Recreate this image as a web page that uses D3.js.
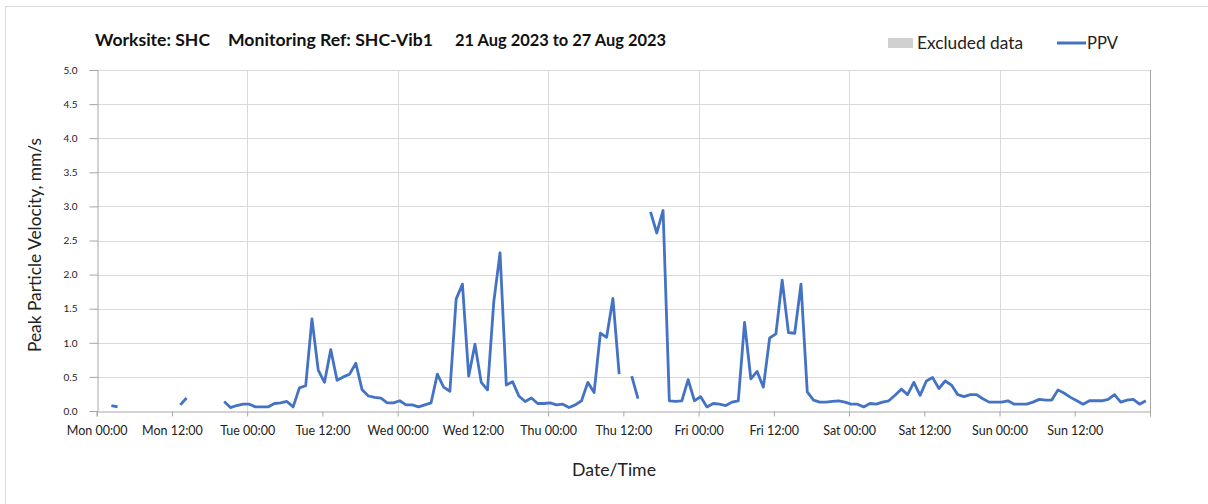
<!DOCTYPE html>
<html>
<head>
<meta charset="utf-8">
<script src="https://cdn.jsdelivr.net/npm/d3@7"></script>
<style>
  html, body { margin: 0; padding: 0; background: #ffffff; }
  svg { display: block; font-family: Lato, "Open Sans", sans-serif; }
</style>
</head>
<body>
<svg id="chart" width="1208" height="504"></svg>
<script>
// ---- data ----
const titleParts = ["Worksite: SHC", "Monitoring Ref: SHC-Vib1", "21 Aug 2023 to 27 Aug 2023"];
const legendLabels = ["Excluded data", "PPV"];
const yTickValues = [0, 0.5, 1, 1.5, 2, 2.5, 3, 3.5, 4, 4.5, 5];
const xLabel = "Date/Time";
const yLabel = "Peak Particle Velocity, mm/s";
// hourly samples starting Mon 21 Aug 2023 00:20
const startTime = Date.UTC(2023, 7, 21, 0, 20);
const stepMinutes = 60;
const ppv = [
  null, null, 0.08, 0.06, null, null, null, null, null, null, null, null,
  null, 0.09, 0.19, null, null, null, null, null, 0.14, 0.05, 0.08, 0.10,
  0.10, 0.06, 0.06, 0.06, 0.11, 0.12, 0.14, 0.06, 0.34, 0.37, 1.35, 0.60,
  0.42, 0.90, 0.45, 0.50, 0.54, 0.70, 0.31, 0.22, 0.20, 0.19, 0.12, 0.12,
  0.15, 0.09, 0.09, 0.06, 0.09, 0.12, 0.54, 0.35, 0.29, 1.64, 1.86, 0.51,
  0.98, 0.42, 0.31, 1.60, 2.32, 0.38, 0.43, 0.22, 0.14, 0.19, 0.11, 0.11,
  0.12, 0.09, 0.10, 0.05, 0.09, 0.15, 0.42, 0.27, 1.14, 1.08, 1.65, 0.54,
  null, 0.51, 0.18, null, 2.92, 2.61, 2.94, 0.15, 0.14, 0.15, 0.46, 0.15,
  0.21, 0.06, 0.11, 0.10, 0.08, 0.13, 0.15, 1.30, 0.47, 0.58, 0.35, 1.07,
  1.13, 1.92, 1.15, 1.14, 1.86, 0.28, 0.16, 0.13, 0.13, 0.14, 0.15, 0.13,
  0.10, 0.10, 0.06, 0.11, 0.10, 0.13, 0.15, 0.23, 0.32, 0.24, 0.42, 0.23,
  0.44, 0.49, 0.33, 0.44, 0.38, 0.24, 0.21, 0.24, 0.24, 0.18, 0.13, 0.13,
  0.13, 0.15, 0.10, 0.10, 0.10, 0.13, 0.17, 0.16, 0.16, 0.31, 0.26, 0.20,
  0.15, 0.10, 0.15, 0.15, 0.15, 0.17, 0.24, 0.13, 0.16, 0.17, 0.10, 0.15
];
const domainStart = Date.UTC(2023, 7, 21, 0, 0);
const domainEnd = Date.UTC(2023, 7, 28, 0, 0);

// ---- chart ----
const svg = d3.select("#chart");
const plotL = 96.7, plotR = 1150, plotT = 70, plotB = 411;
const blue = "#4472C4";

svg.append("rect").attr("x", 5.5).attr("y", 6.5).attr("width", 1300).attr("height", 600)
  .attr("fill", "none").attr("stroke", "#d9d9d9");

const x = d3.scaleUtc().domain([new Date(domainStart), new Date(domainEnd)]).range([plotL, plotR]);
const y = d3.scaleLinear().domain([0, 5]).range([plotB, plotT]);

const data = ppv.map((v, i) => ({ t: new Date(startTime + i * stepMinutes * 60000), v }));

// gridlines
const grid = svg.append("g");
grid.selectAll("line.h").data(yTickValues.filter(d => d > 0)).join("line")
  .attr("x1", plotL).attr("x2", plotR)
  .attr("y1", d => Math.round(y(d)) + 0.5).attr("y2", d => Math.round(y(d)) + 0.5)
  .attr("stroke", "#d9d9d9").attr("stroke-width", 1);
const days = d3.utcDay.range(new Date(domainStart + 1), new Date(domainEnd));
grid.selectAll("line.v").data(days).join("line")
  .attr("x1", d => Math.round(x(d)) + 0.5).attr("x2", d => Math.round(x(d)) + 0.5)
  .attr("y1", plotT).attr("y2", plotB)
  .attr("stroke", "#d9d9d9").attr("stroke-width", 1);
// right edge
svg.append("line").attr("x1", Math.round(plotR) + 0.5).attr("x2", Math.round(plotR) + 0.5)
  .attr("y1", plotT).attr("y2", plotB + 5).attr("stroke", "#a6a6a6");

// x axis
const fmt = d3.utcFormat("%a %H:%M");
const xAxis = d3.axisBottom(x).ticks(d3.utcHour.every(12)).tickFormat(fmt).tickSize(5).tickPadding(10);
const gx = svg.append("g").attr("transform", `translate(0,${Math.round(plotB) + 0.5})`).call(xAxis);
gx.select(".domain").attr("stroke", "#a6a6a6");
gx.selectAll(".tick line").attr("stroke", "#a6a6a6");
gx.selectAll(".tick text").attr("font-size", 12.5).attr("fill", "#222").attr("font-family", "Lato, sans-serif");
gx.selectAll(".tick").filter(d => +d === domainEnd).select("text").remove();

// y axis
const yAxis = d3.axisLeft(y).tickValues(yTickValues).tickFormat(d3.format(".1f")).tickSize(8).tickPadding(12);
const gy = svg.append("g").attr("transform", `translate(${Math.round(plotL) + 0.5},0)`).call(yAxis);
gy.select(".domain").attr("stroke", "#a6a6a6");
gy.selectAll(".tick line").attr("stroke", "#a6a6a6");
gy.selectAll(".tick text").attr("font-size", 10).attr("fill", "#222").attr("font-family", "Lato, sans-serif");

// line
const line = d3.line().defined(d => d.v != null).x(d => x(d.t)).y(d => y(d.v));
svg.append("path").datum(data).attr("d", line)
  .attr("fill", "none").attr("stroke", blue).attr("stroke-width", 2.8)
  .attr("stroke-linejoin", "round").attr("stroke-linecap", "butt");

// title
const titleX = [95, 228, 455];
const titleW = [115, 205, 211];
svg.append("g").selectAll("text").data(titleParts).join("text")
  .attr("x", (d, i) => titleX[i]).attr("y", 46)
  .attr("font-size", 17).attr("font-weight", "bold").attr("fill", "#111")
  .attr("textLength", (d, i) => titleW[i]).attr("lengthAdjust", "spacingAndGlyphs")
  .text(d => d);

// legend
svg.append("rect").attr("x", 888).attr("y", 38).attr("width", 25).attr("height", 10).attr("fill", "#d0d0d0");
svg.append("text").attr("x", 917).attr("y", 49).attr("font-size", 17).attr("fill", "#222")
  .attr("textLength", 106).attr("lengthAdjust", "spacingAndGlyphs").text(legendLabels[0]);
svg.append("line").attr("x1", 1057).attr("x2", 1086).attr("y1", 43).attr("y2", 43)
  .attr("stroke", blue).attr("stroke-width", 3);
svg.append("text").attr("x", 1087).attr("y", 49).attr("font-size", 17).attr("fill", "#222")
  .attr("textLength", 31).attr("lengthAdjust", "spacingAndGlyphs").text(legendLabels[1]);

// axis titles
svg.append("text").attr("x", 614).attr("y", 476).attr("text-anchor", "middle")
  .attr("font-size", 17).attr("fill", "#222")
  .attr("textLength", 84).attr("lengthAdjust", "spacingAndGlyphs").text(xLabel);
svg.append("text").attr("transform", "translate(41,245) rotate(-90)").attr("text-anchor", "middle")
  .attr("font-size", 17).attr("fill", "#222")
  .attr("textLength", 214).attr("lengthAdjust", "spacingAndGlyphs").text(yLabel);
</script>
</body>
</html>
